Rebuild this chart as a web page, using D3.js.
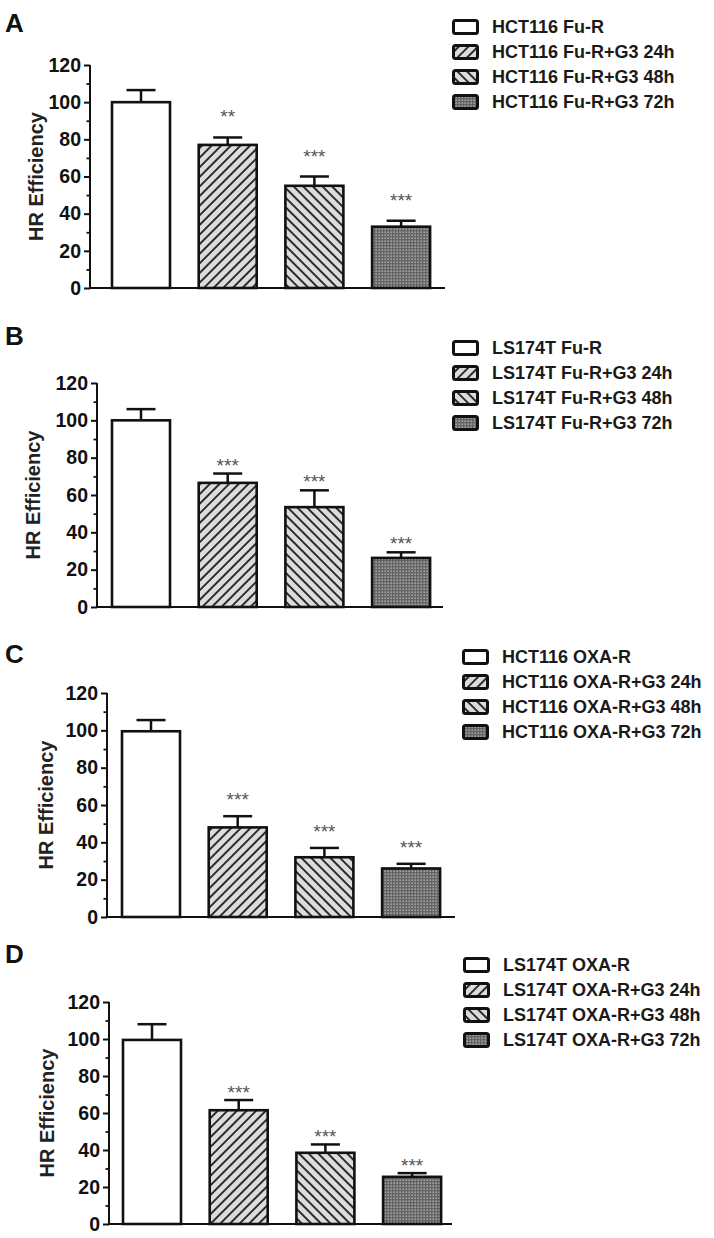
<!DOCTYPE html>
<html>
<head>
<meta charset="utf-8">
<script src="https://cdn.jsdelivr.net/npm/d3@7"></script>
<style>
  body { margin: 0; background: #fff; }
  text { font-family: "Liberation Sans", Arial, sans-serif; }
</style>
</head>
<body>
<script>
// ---- data ----
let groupsA = ["HCT116 Fu-R", "HCT116 Fu-R+G3 24h", "HCT116 Fu-R+G3 48h", "HCT116 Fu-R+G3 72h"];
let groupsB = ["LS174T Fu-R", "LS174T Fu-R+G3 24h", "LS174T Fu-R+G3 48h", "LS174T Fu-R+G3 72h"];
let groupsC = ["HCT116 OXA-R", "HCT116 OXA-R+G3 24h", "HCT116 OXA-R+G3 48h", "HCT116 OXA-R+G3 72h"];
let groupsD = ["LS174T OXA-R", "LS174T OXA-R+G3 24h", "LS174T OXA-R+G3 48h", "LS174T OXA-R+G3 72h"];

let valuesA = [100, 77, 55, 33];
let errorsA = [6.5, 4, 5, 3.2];
let valuesB = [100, 66.5, 53.5, 26.3];
let errorsB = [6, 5, 9, 3];
let valuesC = [99.5, 48, 32, 26];
let errorsC = [6, 6, 5, 2.5];
let valuesD = [99.5, 61.5, 38.5, 25.5];
let errorsD = [8.5, 5.5, 4.5, 2];

let sigA = ["", "**", "***", "***"];
let sigB = ["", "***", "***", "***"];
let sigC = ["", "***", "***", "***"];
let sigD = ["", "***", "***", "***"];

let majorTicks = [0, 20, 40, 60, 80, 100, 120];
let minorTicks = [10, 30, 50, 70, 90, 110];
let fills = ["white", "url(#hatchUp)", "url(#hatchDown)", "url(#dots)"];

// ---- layout for each panel ----
let panels = [
    {letter: "A", groups: groupsA, values: valuesA, errors: errorsA, sig: sigA,
     letterY: 32, axisX: 90, y0: 288, yTop: 65, barX0: 112, axisEnd: 445,
     titleX: 36, legX: 452, legY: 27, starGap: 25},
    {letter: "B", groups: groupsB, values: valuesB, errors: errorsB, sig: sigB,
     letterY: 345, axisX: 97, y0: 607, yTop: 383, barX0: 112, axisEnd: 443,
     titleX: 33, legX: 452, legY: 348, starGap: 13},
    {letter: "C", groups: groupsC, values: valuesC, errors: errorsC, sig: sigC,
     letterY: 663, axisX: 107, y0: 917, yTop: 693, barX0: 122, axisEnd: 455,
     titleX: 46, legX: 462, legY: 657, starGap: 21},
    {letter: "D", groups: groupsD, values: valuesD, errors: errorsD, sig: sigD,
     letterY: 963, axisX: 109, y0: 1224, yTop: 1002, barX0: 123, axisEnd: 452,
     titleX: 47, legX: 463, legY: 965, starGap: 12}
];

let svgWidth = 714,
    svgHeight = 1238,
    barWidth = 58,
    barStep = 86.7,
    inkColor = "#111";

let svg = d3.select("body").append("svg")
    .attr("width", svgWidth)
    .attr("height", svgHeight);

svg.append("rect").attr("width", svgWidth).attr("height", svgHeight).attr("fill", "white");

makePatterns();
panels.forEach(drawPanel);

function makePatterns() {
    let defs = svg.append("defs");

    [["hatchUp", 45], ["hatchDown", -45]].forEach(([id, angle]) => {
        let p = defs.append("pattern")
            .attr("id", id)
            .attr("patternUnits", "userSpaceOnUse")
            .attr("width", 6.8)
            .attr("height", 6.8)
            .attr("patternTransform", "rotate(" + angle + ")");
        p.append("rect").attr("width", 6.8).attr("height", 6.8).attr("fill", "#dcdcdc");
        p.append("line")
            .attr("x1", 1).attr("y1", 0).attr("x2", 1).attr("y2", 6.8)
            .attr("stroke", "#111").attr("stroke-width", 1.7);
    });

    let d = defs.append("pattern")
        .attr("id", "dots")
        .attr("patternUnits", "userSpaceOnUse")
        .attr("width", 3)
        .attr("height", 3);
    d.append("rect").attr("width", 3).attr("height", 3).attr("fill", "#646464");
    d.append("rect").attr("x", 0.5).attr("y", 0.5).attr("width", 1.3).attr("height", 1.3).attr("fill", "#c4c4c4");
}

function drawPanel(cfg) {
    let g = svg.append("g");

    let x = d3.scaleBand()
        .domain(cfg.groups)
        .range([cfg.barX0, cfg.barX0 + barStep * 3 + barWidth])
        .paddingInner(1 - barWidth / barStep)
        .paddingOuter(0);

    let y = d3.scaleLinear().domain([0, 120]).range([cfg.y0, cfg.yTop]);

    // panel letter
    g.append("text")
        .attr("x", 5)
        .attr("y", cfg.letterY)
        .attr("font-size", 26)
        .attr("font-weight", "bold")
        .attr("fill", inkColor)
        .text(cfg.letter);

    let rows = cfg.groups.map((name, i) => ({name: name, v: cfg.values[i], e: cfg.errors[i], s: cfg.sig[i], fill: fills[i]}));

    // error bars (upper half only)
    let eb = g.selectAll(".err").data(rows).enter().append("g");
    eb.append("line")
        .attr("x1", r => x(r.name) + x.bandwidth() / 2)
        .attr("x2", r => x(r.name) + x.bandwidth() / 2)
        .attr("y1", r => y(r.v))
        .attr("y2", r => y(r.v + r.e))
        .attr("stroke", inkColor).attr("stroke-width", 2.5);
    eb.append("line")
        .attr("x1", r => x(r.name) + x.bandwidth() / 4)
        .attr("x2", r => x(r.name) + x.bandwidth() * 3 / 4)
        .attr("y1", r => y(r.v + r.e))
        .attr("y2", r => y(r.v + r.e))
        .attr("stroke", inkColor).attr("stroke-width", 2.5);

    g.selectAll(".bar").data(rows).enter().append("rect")
        .attr("x", r => x(r.name))
        .attr("y", r => y(r.v))
        .attr("width", x.bandwidth())
        .attr("height", r => cfg.y0 - y(r.v))
        .attr("fill", r => r.fill)
        .attr("stroke", inkColor)
        .attr("stroke-width", 2.6);

    // significance stars
    g.selectAll(".sig").data(rows).enter().append("text")
        .attr("x", r => x(r.name) + x.bandwidth() / 2)
        .attr("y", r => y(r.v + r.e) - cfg.starGap + 11)
        .attr("text-anchor", "middle")
        .attr("font-size", 19)
        .attr("fill", "#555")
        .text(r => r.s);

    // y axis
    let yAxis = d3.axisLeft(y).tickValues(majorTicks).tickSize(6).tickPadding(3);
    let ya = g.append("g")
        .attr("transform", "translate(" + cfg.axisX + ",0)")
        .call(yAxis);
    ya.select(".domain").remove();
    ya.selectAll(".tick line").attr("stroke", inkColor).attr("stroke-width", 2);
    ya.selectAll(".tick text")
        .attr("font-size", 19.5)
        .attr("font-weight", "bold")
        .attr("font-family", "Liberation Sans, Arial, sans-serif")
        .attr("fill", inkColor);

    let yMinor = d3.axisLeft(y).tickValues(minorTicks).tickSize(3.5).tickFormat("");
    let ym = g.append("g")
        .attr("transform", "translate(" + cfg.axisX + ",0)")
        .call(yMinor);
    ym.select(".domain").remove();
    ym.selectAll(".tick line").attr("stroke", inkColor).attr("stroke-width", 1.8);

    g.append("line")
        .attr("x1", cfg.axisX).attr("x2", cfg.axisX)
        .attr("y1", y(120)).attr("y2", y(0))
        .attr("stroke", inkColor).attr("stroke-width", 2);

    // x baseline
    g.append("line")
        .attr("x1", cfg.axisX).attr("x2", cfg.axisEnd)
        .attr("y1", y(0)).attr("y2", y(0))
        .attr("stroke", inkColor).attr("stroke-width", 2);

    // y title
    g.append("text")
        .attr("transform", "translate(" + cfg.titleX + "," + y(60) + ") rotate(-90)")
        .attr("text-anchor", "middle")
        .attr("dy", "0.35em")
        .attr("font-size", 20)
        .attr("font-weight", "bold")
        .attr("fill", "#222")
        .text("HR Efficiency");

    // legend
    let leg = g.selectAll(".leg").data(rows).enter().append("g")
        .attr("transform", (r, i) => "translate(" + cfg.legX + "," + (cfg.legY + i * 25) + ")");
    leg.append("rect")
        .attr("x", 1.5).attr("y", -6.5)
        .attr("width", 24).attr("height", 13)
        .attr("rx", 2)
        .attr("fill", r => r.fill)
        .attr("stroke", inkColor)
        .attr("stroke-width", 3);
    leg.append("text")
        .attr("x", 40)
        .attr("y", 0)
        .attr("dy", "0.36em")
        .attr("font-size", 18)
        .attr("font-weight", "bold")
        .attr("fill", "#1a1a1a")
        .text(r => r.name);
}
</script>
</body>
</html>
